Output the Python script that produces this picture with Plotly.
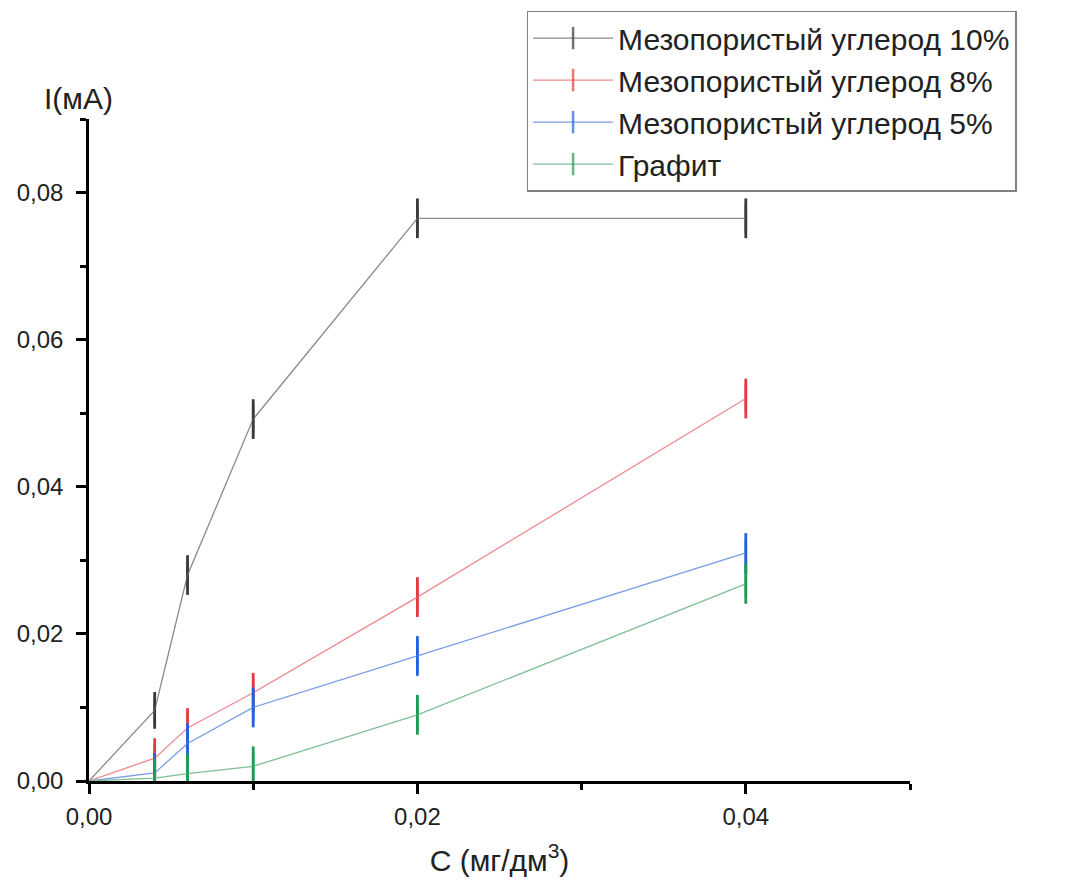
import plotly.graph_objects as go

conc = [0.0, 0.004, 0.006, 0.01, 0.02, 0.04]

names = ["Мезопористый углерод 10%", "Мезопористый углерод 8%",
         "Мезопористый углерод 5%", "Графит"]
meso10 = [0.0, 0.0096, 0.028, 0.0492, 0.0765, 0.0765]
meso8 = [0.0, 0.0031, 0.0072, 0.012, 0.025, 0.052]
meso5 = [0.0, 0.0011, 0.0051, 0.010, 0.017, 0.031]
graphite = [0.0, 0.0004, 0.001, 0.002, 0.009, 0.0268]
err10 = [0.0, 0.0025, 0.0027, 0.0027, 0.0027, 0.0027]
err8 = [0.0, 0.0027, 0.0027, 0.0027, 0.0027, 0.0027]
err5 = [0.0, 0.0027, 0.0027, 0.0027, 0.0027, 0.0027]
errg = [0.0, 0.0027, 0.0027, 0.0027, 0.0027, 0.0027]

series = [meso10, meso8, meso5, graphite]
errors = [err10, err8, err5, errg]
line_colors = ["#8a8a8a", "#f08a8e", "#7b9de6", "#7fbf97"]
bar_colors = ["#3a3a3a", "#e23a44", "#2262dc", "#1f9a55"]

xticks = [0.0, 0.02, 0.04]
yticks = [0.0, 0.02, 0.04, 0.06, 0.08]

FONT = "Arial, Liberation Sans, sans-serif"

fig = go.Figure()
for name, ys, es, lc, bc in zip(names, series, errors, line_colors, bar_colors):
    fig.add_trace(go.Scatter(
        x=conc, y=ys, name=name, mode="lines+markers",
        line=dict(color=lc, width=1.3),
        marker=dict(symbol="line-ns", size=[0, 20, 20, 20, 20, 20],
                    color=bc, line=dict(color=bc, width=2.5)),
        error_y=dict(type="data", array=es, visible=True, color=bc,
                     thickness=2.8, width=0),
    ))

axis_common = dict(
    showline=True, linecolor="black", linewidth=2.5, showgrid=False,
    zeroline=False, ticks="outside", ticklen=10, tickwidth=2.5,
    tickcolor="black", mirror=False,
    tickfont=dict(family=FONT, size=24, color="#222"),
)

fig.update_xaxes(range=[0, 0.05], tickvals=xticks, tickformat=".2f",
                 minor=dict(tickvals=[0.01, 0.03, 0.05], ticks="outside",
                            ticklen=6, tickwidth=2.5, tickcolor="black"),
                 title=dict(text="C (мг/дм<sup>3</sup>)",
                            font=dict(family=FONT, size=30, color="#222"),
                            standoff=22),
                 ticklabelstandoff=2,
                 **axis_common)
fig.update_yaxes(range=[0, 0.09], tickvals=yticks, tickformat=".2f",
                 minor=dict(tickvals=[0.01, 0.03, 0.05, 0.07, 0.09], ticks="outside",
                            ticklen=6, tickwidth=2.5, tickcolor="black"),
                 ticklabelstandoff=8,
                 **axis_common)

fig.add_annotation(text="I(мА)", xref="paper", yref="paper", x=-0.013, y=1.0,
                   xanchor="center", yanchor="bottom", yshift=2, showarrow=False,
                   font=dict(family=FONT, size=30, color="#222"))

fig.update_layout(
    width=1074, height=889,
    margin=dict(l=89, r=164, t=118, b=108),
    paper_bgcolor="white", plot_bgcolor="white",
    separators=", ",
    font=dict(family=FONT, color="#222"),
    legend=dict(x=0.533, y=1.162, xanchor="left", yanchor="top",
                bordercolor="#808080", borderwidth=1.5, bgcolor="white",
                font=dict(family=FONT, size=30, color="#222"),
                itemwidth=80, tracegroupgap=0),
    showlegend=True,
)

fig.write_html("out.html")
